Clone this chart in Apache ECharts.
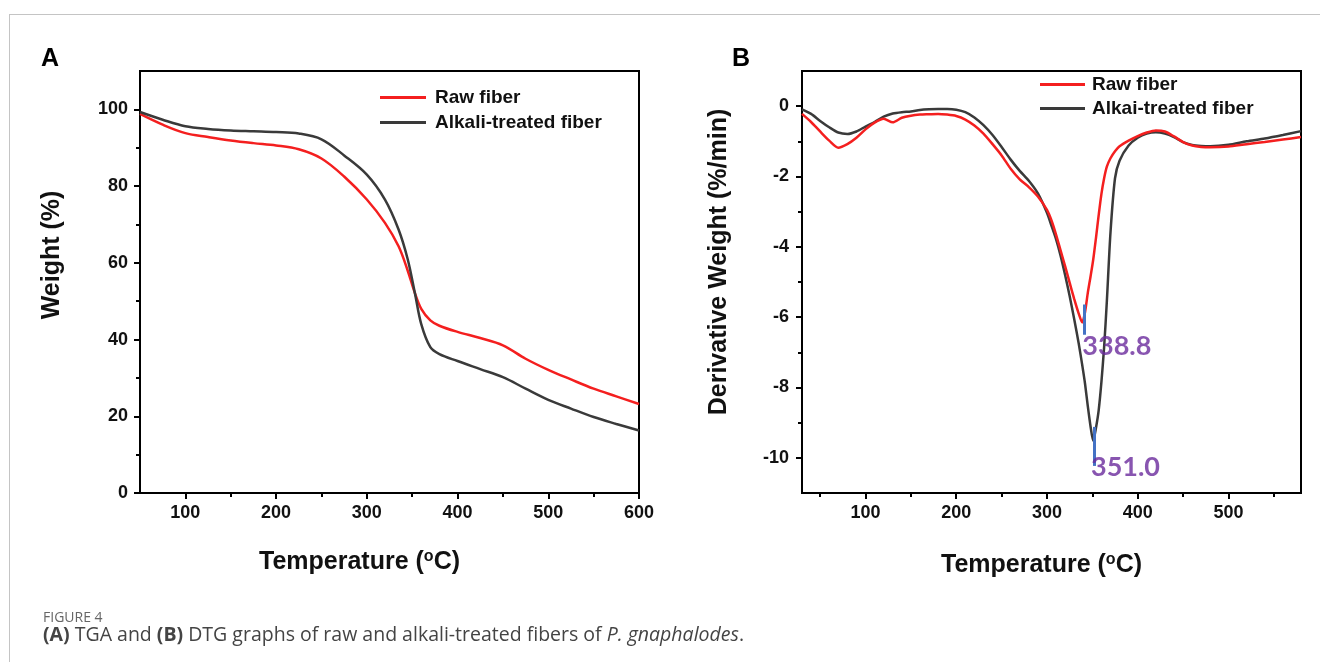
<!DOCTYPE html>
<html>
<head>
<meta charset="utf-8">
<script src="https://cdn.jsdelivr.net/npm/echarts@6/dist/echarts.min.js"></script>
<style>
html,body{margin:0;padding:0;background:#fff;}
#frame{position:absolute;left:9px;top:14px;right:0;bottom:0;border-top:1px solid #c4c4c4;border-left:1px solid #c4c4c4;}
#chart{position:absolute;left:0;top:0;width:1320px;height:662px;}
</style>
</head>
<body>
<div id="frame"></div>
<div id="chart"></div>
<script>
// ---- Panel A: TGA ----
const tgaTemp = [50,75,100,125,150,175,200,225,250,275,300,320,335,345,353,360,370,380,400,425,450,475,500,525,550,575,600];
const tgaRaw = [98.8,96.0,93.8,92.8,91.9,91.2,90.6,89.6,87.2,82.5,76.5,70.4,64.3,58.0,52.1,48.0,45.0,43.6,42.0,40.4,38.5,35.0,32.1,29.6,27.2,25.2,23.2];
const tgaAlkali = [99.3,97.3,95.6,94.9,94.5,94.3,94.1,93.7,92.2,88.0,83.0,76.5,68.7,61.0,52.1,44.0,38.0,36.2,34.4,32.3,30.2,27.2,24.3,22.0,19.8,18.0,16.3];
const tgaXMajor = [100,200,300,400,500,600];
const tgaXMinor = [150,250,350,450,550];
const tgaYMajor = [0,20,40,60,80,100];
const tgaYMinor = [10,30,50,70,90];

// ---- Panel B: DTG ----
const dtgTemp = [30,40,50,60,70,80,90,100,110,120,130,140,150,160,170,180,190,200,210,220,230,240,250,260,270,280,290,300,305,310,315,320,325,330,335,338.8,342,345,348,351,354,357,360,363,366,370,375,380,390,400,410,420,430,440,450,460,470,480,500,520,540,560,580];
const dtgRaw = [-0.22,-0.45,-0.72,-0.98,-1.18,-1.08,-0.90,-0.66,-0.47,-0.36,-0.46,-0.33,-0.27,-0.24,-0.23,-0.22,-0.24,-0.28,-0.38,-0.55,-0.78,-1.08,-1.40,-1.78,-2.08,-2.30,-2.57,-2.95,-3.25,-3.65,-4.10,-4.55,-5.02,-5.48,-5.90,-6.15,-5.85,-5.31,-4.85,-4.36,-3.75,-3.10,-2.50,-2.05,-1.72,-1.48,-1.28,-1.14,-0.98,-0.85,-0.75,-0.69,-0.72,-0.86,-1.02,-1.12,-1.16,-1.17,-1.15,-1.08,-1.02,-0.95,-0.88];
const dtgAlkali = [-0.09,-0.22,-0.42,-0.60,-0.75,-0.79,-0.72,-0.58,-0.45,-0.30,-0.21,-0.17,-0.15,-0.11,-0.09,-0.08,-0.08,-0.10,-0.17,-0.32,-0.54,-0.82,-1.16,-1.52,-1.84,-2.12,-2.48,-3.03,-3.40,-3.78,-4.25,-4.80,-5.40,-6.05,-6.75,-7.35,-7.90,-8.53,-9.10,-9.52,-9.15,-8.65,-7.85,-6.85,-5.55,-3.60,-2.05,-1.55,-1.12,-0.90,-0.78,-0.74,-0.78,-0.88,-1.02,-1.10,-1.13,-1.14,-1.10,-1.00,-0.92,-0.82,-0.71];
const dtgXMajor = [100,200,300,400,500];
const dtgXMinor = [50,150,250,350,450,550];
const dtgYMajor = [0,-2,-4,-6,-8,-10];
const dtgYMinor = [-1,-3,-5,-7,-9];
const peakMarks = [[341,-5.64,-6.5],[351.6,-9.12,-10.23]];
const peakLabels = [[339,-6.84,'338.8'],[348.5,-10.26,'351.0']];

const names = ['Raw fiber','Alkali-treated fiber','Alkai-treated fiber'];
const RED = '#f41f1f', DARK = '#3a3a3a';

function pairs(xs, ys){ return xs.map((x,i)=>[x,ys[i]]); }

const FONT = 'Liberation Sans, Arial, sans-serif';
const tickLabel = {fontFamily: FONT, fontWeight:'bold', fontSize:18, color:'#111'};
function nameStyle(pad){
  return {fontFamily: FONT, fontWeight:'bold', fontSize:25, color:'#111', padding:pad,
    rich:{sup:{fontFamily:FONT,fontWeight:'bold',fontSize:16,color:'#111',verticalAlign:'top',padding:[0,0,10,0]}}};
}

function majorAxis(grid, min, max, ticks, pos, extra){
  return Object.assign({
    type:'value', gridIndex:grid, min:min, max:max, position:pos,
    axisLine:{show:true, onZero:false, lineStyle:{color:'#000', width:2}},
    axisTick:{show:true, customValues:ticks, length:6, lineStyle:{color:'#000', width:2}},
    axisLabel:{show:true, customValues:ticks, ...tickLabel},
    splitLine:{show:false}
  }, extra||{});
}
function minorAxis(grid, min, max, ticks, pos){
  return {
    type:'value', gridIndex:grid, min:min, max:max, position:pos,
    axisLine:{show:false, onZero:false},
    axisTick:{show:true, customValues:ticks, length:4, lineStyle:{color:'#000', width:2}},
    axisLabel:{show:false},
    splitLine:{show:false}
  };
}

const chart = echarts.init(document.getElementById('chart'), null, {renderer:'canvas'});
chart.setOption({
  animation:false,
  backgroundColor:'transparent',
  grid:[
    {left:140, top:71, width:499, height:422, show:true, borderColor:'#000', borderWidth:2, backgroundColor:'transparent'},
    {left:802, top:71, width:499, height:422, show:true, borderColor:'#000', borderWidth:2, backgroundColor:'transparent'}
  ],
  xAxis:[
    majorAxis(0, 50, 600, tgaXMajor, 'bottom', {name:'Temperature ({sup|o}C)', nameLocation:'middle', nameGap:56, nameTextStyle:nameStyle([0,60,0,0]), axisLabel:{customValues:tgaXMajor, margin:11, ...tickLabel}}),
    minorAxis(0, 50, 600, tgaXMinor, 'bottom'),
    majorAxis(1, 30, 580, dtgXMajor, 'bottom', {name:'Temperature ({sup|o}C)', nameLocation:'middle', nameGap:59, nameTextStyle:nameStyle([0,20,0,0]), axisLabel:{customValues:dtgXMajor, margin:11, ...tickLabel}}),
    minorAxis(1, 30, 580, dtgXMinor, 'bottom')
  ],
  yAxis:[
    majorAxis(0, 0, 110, tgaYMajor, 'left', {name:'Weight (%)', nameLocation:'middle', nameGap:75, nameTextStyle:nameStyle([0,0,0,54]), axisLabel:{customValues:tgaYMajor, margin:12, ...tickLabel}}),
    minorAxis(0, 0, 110, tgaYMinor, 'left'),
    majorAxis(1, -11, 1, dtgYMajor, 'left', {name:'Derivative Weight (%/min)', nameLocation:'middle', nameGap:70, nameTextStyle:nameStyle([0,0,0,40]), axisLabel:{customValues:dtgYMajor, margin:13, ...tickLabel}}),
    minorAxis(1, -11, 1, dtgYMinor, 'left')
  ],
  legend:[
    {data:[names[0],names[1]], orient:'vertical', left:375, top:83, itemWidth:46, itemHeight:3, itemGap:6, icon:'rect',
     textStyle:{fontFamily:FONT, fontWeight:'bold', fontSize:19, color:'#111', padding:[0,0,0,4]}},
    {data:[names[0],names[2]], orient:'vertical', left:1035, top:70, itemWidth:45, itemHeight:3, itemGap:5, icon:'rect',
     textStyle:{fontFamily:FONT, fontWeight:'bold', fontSize:19, color:'#111', padding:[0,0,0,2]}}
  ],
  series:[
    {name:names[0], type:'line', xAxisIndex:0, yAxisIndex:0, data:pairs(tgaTemp,tgaRaw), showSymbol:false, symbol:'none', smooth:0.35, lineStyle:{color:RED,width:2.5}, itemStyle:{color:RED}},
    {name:names[1], type:'line', xAxisIndex:0, yAxisIndex:0, data:pairs(tgaTemp,tgaAlkali), showSymbol:false, symbol:'none', smooth:0.35, lineStyle:{color:DARK,width:2.5}, itemStyle:{color:DARK}},
    {name:names[2], type:'line', xAxisIndex:2, yAxisIndex:2, data:pairs(dtgTemp,dtgAlkali), showSymbol:false, symbol:'none', smooth:0.25, lineStyle:{color:DARK,width:2.5}, itemStyle:{color:DARK}, z:2},
    {name:names[0], type:'line', xAxisIndex:2, yAxisIndex:2, data:pairs(dtgTemp,dtgRaw), showSymbol:false, symbol:'none', smooth:0.25, lineStyle:{color:RED,width:2.5}, itemStyle:{color:RED}, z:3,
     markLine:{silent:true, symbol:['none','none'], label:{show:false}, lineStyle:{color:'#4472C4', width:3, type:'solid'},
       data: peakMarks.map(m=>[{coord:[m[0],m[1]]},{coord:[m[0],m[2]]}])}},
    {name:'peaks', type:'scatter', xAxisIndex:2, yAxisIndex:2, symbolSize:0, z:5,
     data: peakLabels.map(p=>({value:[p[0],p[1]], name:p[2]})),
     label:{show:true, position:'right', distance:0, formatter:p=>p.name, fontFamily:'Lato, "Open Sans", sans-serif', fontWeight:'bold', fontSize:27, color:'#6a2a9c'}}
  ],
  graphic:[
    {type:'text', left:41, top:47, style:{text:'A', font:'bold 25px "Liberation Sans", Arial', fill:'#000'}},
    {type:'text', left:732, top:47, style:{text:'B', font:'bold 25px "Liberation Sans", Arial', fill:'#000'}},
    {type:'text', left:43, top:611, style:{text:'FIGURE 4', font:'14px "Open Sans", sans-serif', fill:'#666'}},
    {type:'text', left:43, top:625, style:{
      text:'{b|(A)} TGA and {b|(B)} DTG graphs of raw and alkali-treated fibers of {i|P. gnaphalodes}.',
      font:'19.5px "Open Sans", sans-serif', fill:'#444',
      rich:{b:{fontFamily:'"Open Sans", sans-serif', fontWeight:'bold', fontSize:19.5, fill:'#444'},
            i:{fontFamily:'"Open Sans", sans-serif', fontStyle:'italic', fontSize:19.5, fill:'#444'}}}}
  ]
});
</script>
</body>
</html>
